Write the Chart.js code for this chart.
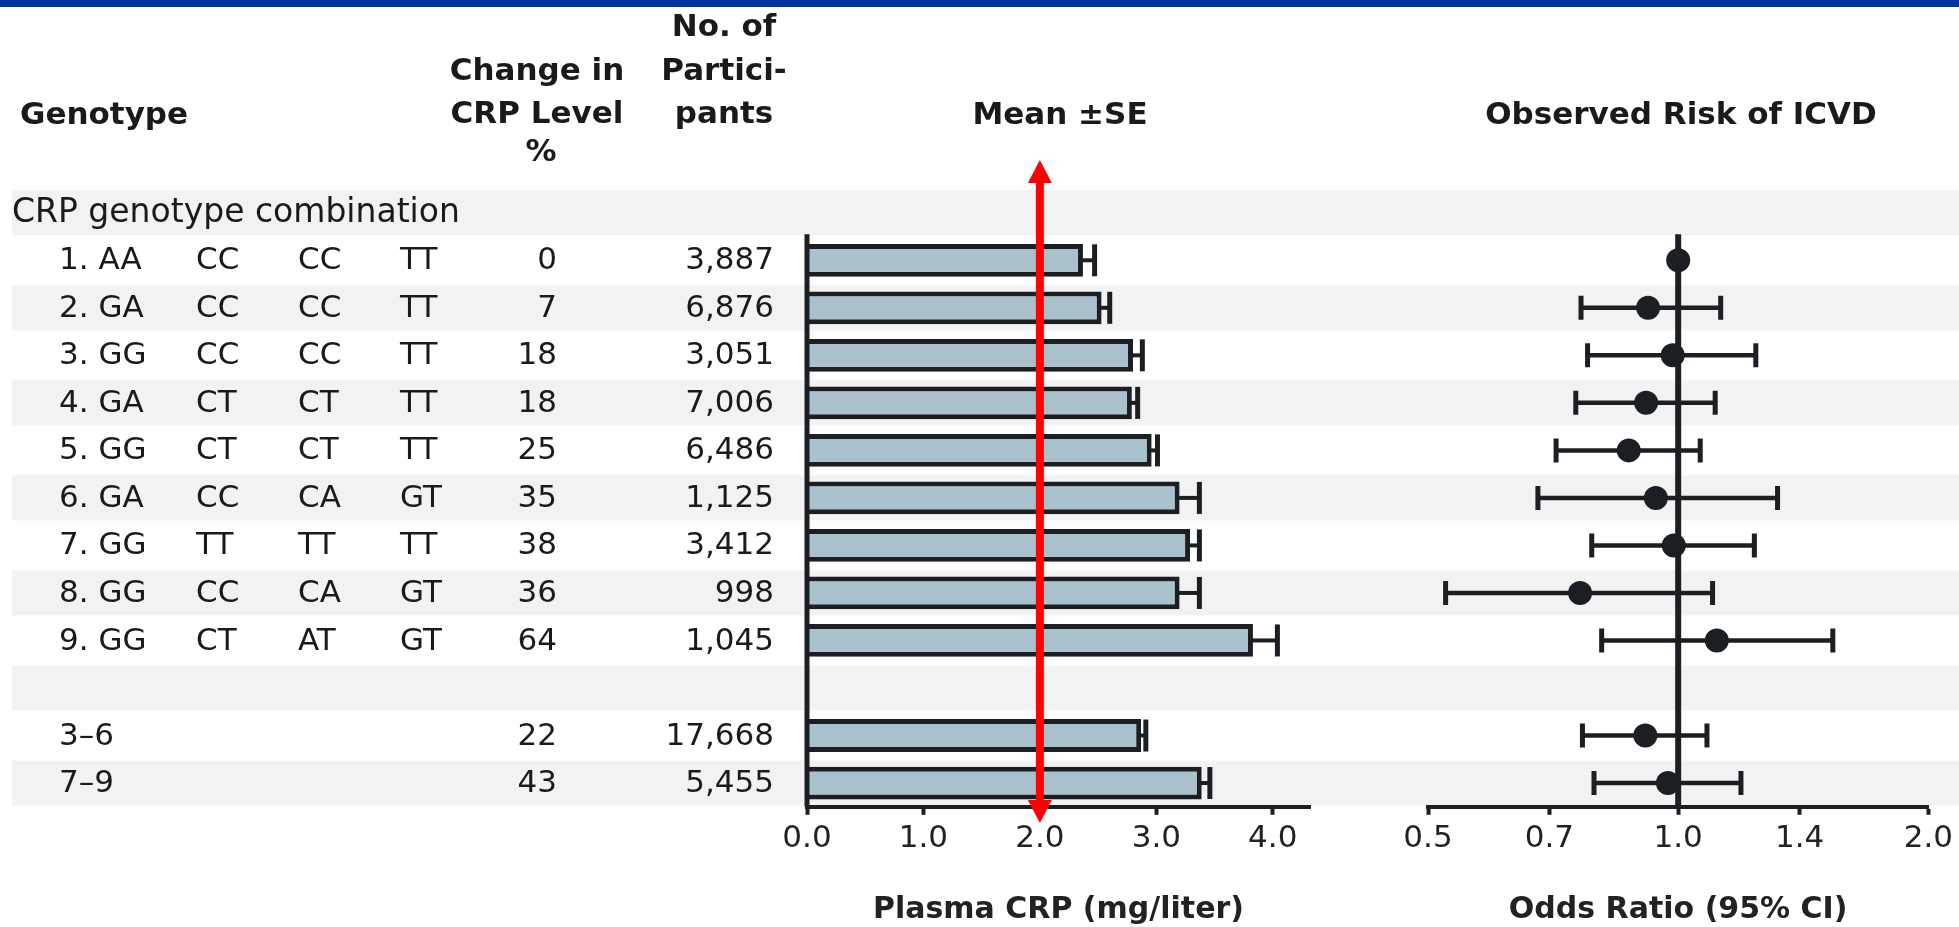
<!DOCTYPE html>
<html><head><meta charset="utf-8">
<script src="https://cdn.jsdelivr.net/npm/chart.js@4.4.1/dist/chart.umd.min.js"></script>
<style>
html,body{margin:0;padding:0;background:#fff;width:1959px;height:927px;overflow:hidden}
canvas{position:absolute;left:0;top:0}
#c2{pointer-events:none}
</style></head><body>
<canvas id="c1" width="1959" height="927"></canvas>
<canvas id="c2" width="1959" height="927"></canvas>
<script>
// ---------- data ----------
const sectionLabel = 'CRP genotype combination';
const rowLabels    = ['1. AA','2. GA','3. GG','4. GA','5. GG','6. GA','7. GG','8. GG','9. GG','','3–6','7–9'];
const geno2        = ['CC','CC','CC','CT','CT','CC','TT','CC','CT','','',''];
const geno3        = ['CC','CC','CC','CT','CT','CA','TT','CA','AT','','',''];
const geno4        = ['TT','TT','TT','TT','TT','GT','TT','GT','GT','','',''];
const changePct    = ['0','7','18','18','25','35','38','36','64','','22','43'];
const participants = ['3,887','6,876','3,051','7,006','6,486','1,125','3,412','998','1,045','','17,668','5,455'];
const crpMean      = [2.37,2.53,2.80,2.79,2.96,3.20,3.29,3.20,3.83,null,2.87,3.39];
const crpUpper     = [2.47,2.60,2.88,2.84,3.01,3.37,3.37,3.37,4.04,null,2.91,3.46];
const orPoint      = [1.00,0.92,0.985,0.915,0.872,0.94,0.988,0.762,1.113,null,0.913,0.972];
const orLow        = [null,0.764,0.778,0.753,0.713,0.678,0.787,0.525,0.809,null,0.767,0.792];
const orHigh       = [null,1.125,1.24,1.108,1.063,1.317,1.235,1.10,1.535,null,1.083,1.19];
const crpTicks     = [0,1,2,3,4];
const orTicks      = [0.5,0.7,1.0,1.4,2.0];
const headGenotype = 'Genotype';
const headChange   = ['Change in','CRP Level','%'];
const headN        = ['No. of','Partici-','pants'];
const panelTitles  = ['Mean ±SE','Observed Risk of ICVD'];
const axisTitles   = ['Plasma CRP (mg/liter)','Odds Ratio (95% CI)'];
const arrowAt      = 2.0;

// ---------- derived ----------
const categories = [sectionLabel].concat(rowLabels.map((l,i)=>'r'+i));
const FONT = '"DejaVu Sans", sans-serif';
const INK = '#1b1e22';

function axisCommon(title){
  return {
    ticks:{font:{family:FONT,size:31},color:'#222',padding:6,maxRotation:0,autoSkip:false,
           callback:v=>Number(v).toFixed(1)},
    grid:{drawOnChartArea:false,drawTicks:true,tickLength:8,tickWidth:4,tickColor:INK},
    border:{display:true,color:INK,width:4},
    title:{display:true,text:title,color:'#222',font:{family:FONT,size:30,weight:'bold',lineHeight:1},padding:{top:31,bottom:0}}
  };
}

const bgPlugin = {
  id:'bg',
  beforeDraw(chart){
    const ctx=chart.ctx, y=chart.scales.y;
    ctx.save();
    ctx.fillStyle='#fff'; ctx.fillRect(0,0,chart.width,chart.height);
    ctx.fillStyle='#00349a'; ctx.fillRect(0,0,chart.width,7);
    ctx.fillStyle='#f2f2f2';
    for(let i=0;i<categories.length;i+=2){
      const yc=y.getPixelForValue(i);
      ctx.fillRect(12,yc-22.5,chart.width-12,45);
    }
    ctx.restore();
  }
};

const crpPlugin = {
  id:'crpExtras',
  afterDatasetsDraw(chart){
    const ctx=chart.ctx, x=chart.scales.x, y=chart.scales.y, ca=chart.chartArea;
    ctx.save();
    const x0=x.getPixelForValue(0);
    ctx.strokeStyle=INK; ctx.lineWidth=5;
    ctx.beginPath(); ctx.moveTo(x0,y.getPixelForValue(1)-26); ctx.lineTo(x0,ca.bottom); ctx.stroke();
    crpMean.forEach((m,i)=>{
      if(m==null) return;
      const yc=y.getPixelForValue(i+1);
      const xa=x.getPixelForValue(m), xb=x.getPixelForValue(crpUpper[i]);
      ctx.lineWidth=4; ctx.beginPath(); ctx.moveTo(xa-3,yc); ctx.lineTo(xb,yc); ctx.stroke();
      ctx.lineWidth=5; ctx.beginPath(); ctx.moveTo(xb,yc-16); ctx.lineTo(xb,yc+16); ctx.stroke();
    });
    const xr=x.getPixelForValue(arrowAt);
    const top=160, bot=823, hh=23, hw=12;
    ctx.strokeStyle='#ff0000'; ctx.fillStyle='#ff0000'; ctx.lineWidth=8;
    ctx.beginPath(); ctx.moveTo(xr,top+hh-2); ctx.lineTo(xr,bot-hh+2); ctx.stroke();
    ctx.beginPath(); ctx.moveTo(xr,top); ctx.lineTo(xr-hw,top+hh); ctx.lineTo(xr+hw,top+hh); ctx.closePath(); ctx.fill();
    ctx.beginPath(); ctx.moveTo(xr,bot); ctx.lineTo(xr-hw,bot-hh); ctx.lineTo(xr+hw,bot-hh); ctx.closePath(); ctx.fill();
    ctx.restore();
  },
  afterDraw(chart){
    const ctx=chart.ctx, y=chart.scales.y;
    ctx.save();
    ctx.fillStyle='#1a1a1a'; ctx.textBaseline='middle';
    ctx.font='bold 31px '+FONT;
    ctx.textAlign='left'; ctx.fillText(headGenotype,20,116);
    ctx.textAlign='center';
    [72,115,153].forEach((yy,k)=>ctx.fillText(headChange[k],k==2?541:537,yy));
    [28,72,115].forEach((yy,k)=>ctx.fillText(headN[k],724,yy));
    ctx.fillText(panelTitles[0],1060,116);
    ctx.fillText(panelTitles[1],1681,116);
    ctx.font='33px '+FONT; ctx.textAlign='left';
    ctx.fillText(sectionLabel,12,y.getPixelForValue(0)+1);
    ctx.font='31px '+FONT;
    rowLabels.forEach((lab,i)=>{
      const yc=y.getPixelForValue(i+1)+1;
      ctx.textAlign='left';
      ctx.fillText(lab,59,yc);
      ctx.fillText(geno2[i],196,yc);
      ctx.fillText(geno3[i],298,yc);
      ctx.fillText(geno4[i],400,yc);
      ctx.textAlign='right';
      ctx.fillText(changePct[i],557,yc);
      ctx.fillText(participants[i],774,yc);
    });
    ctx.restore();
  }
};

new Chart(document.getElementById('c1'),{
  type:'bar',
  data:{labels:categories,datasets:[{
    data:[null].concat(crpMean),
    backgroundColor:'#a9c1cd',borderColor:INK,borderWidth:5,borderSkipped:'start',
    barPercentage:0.69,categoryPercentage:1
  }]},
  options:{
    indexAxis:'y',responsive:false,animation:false,devicePixelRatio:1,
    layout:{padding:{left:807,right:649,top:189,bottom:2}},
    plugins:{legend:{display:false},tooltip:{enabled:false}},
    scales:{
      y:{type:'category',display:false,offset:true},
      x:Object.assign({type:'linear',min:0,max:4.32,
        afterBuildTicks:s=>{s.ticks=crpTicks.map(v=>({value:v}));}},axisCommon(axisTitles[0]))
    }
  },
  plugins:[bgPlugin,crpPlugin]
});

const orPlugin = {
  id:'orExtras',
  beforeDatasetsDraw(chart){
    const ctx=chart.ctx, x=chart.scales.x, y=chart.scales.y, ca=chart.chartArea;
    ctx.save();
    ctx.strokeStyle=INK;
    const x1=x.getPixelForValue(1);
    ctx.lineWidth=6;
    ctx.beginPath(); ctx.moveTo(x1,y.getPixelForValue(1)-26); ctx.lineTo(x1,ca.bottom); ctx.stroke();
    orPoint.forEach((p,i)=>{
      if(orLow[i]==null) return;
      const yc=y.getPixelForValue(i+1);
      const xl=x.getPixelForValue(orLow[i]), xh=x.getPixelForValue(orHigh[i]);
      ctx.lineWidth=4.5; ctx.beginPath(); ctx.moveTo(xl,yc); ctx.lineTo(xh,yc); ctx.stroke();
      ctx.lineWidth=5;
      ctx.beginPath(); ctx.moveTo(xl,yc-12); ctx.lineTo(xl,yc+12); ctx.moveTo(xh,yc-12); ctx.lineTo(xh,yc+12); ctx.stroke();
    });
    ctx.restore();
  }
};

new Chart(document.getElementById('c2'),{
  type:'line',
  data:{labels:categories,datasets:[{
    data:[null].concat(orPoint),
    showLine:false,pointRadius:12,pointBackgroundColor:INK,pointBorderColor:INK,pointBorderWidth:0
  }]},
  options:{
    indexAxis:'y',responsive:false,animation:false,devicePixelRatio:1,
    layout:{padding:{left:1428,right:28,top:189,bottom:2}},
    plugins:{legend:{display:false},tooltip:{enabled:false}},
    scales:{
      y:{type:'category',display:false,offset:true},
      x:Object.assign({type:'logarithmic',min:0.5,max:2.0,
        afterBuildTicks:s=>{s.ticks=orTicks.map(v=>({value:v}));}},axisCommon(axisTitles[1]))
    }
  },
  plugins:[orPlugin]
});
</script>
</body></html>
